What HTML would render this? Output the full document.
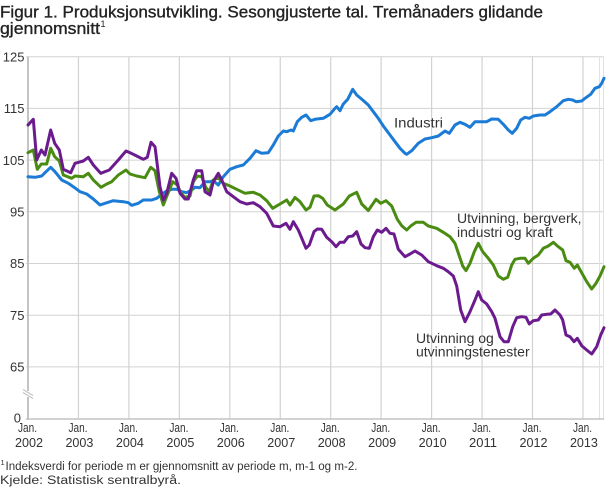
<!DOCTYPE html>
<html>
<head>
<meta charset="utf-8">
<style>
  html,body{margin:0;padding:0;background:#fff;}
  svg{display:block;}
  text{font-family:"Liberation Sans","DejaVu Sans",sans-serif;fill:#333;}
</style>
</head>
<body>
<svg width="610" height="488" viewBox="0 0 610 488" xmlns="http://www.w3.org/2000/svg">
  <rect x="0" y="0" width="610" height="488" fill="#fff"/>

  <!-- Title -->
  <text x="0" y="17.5" font-size="17" textLength="543" lengthAdjust="spacingAndGlyphs" style="fill:#222;stroke:#222;stroke-width:0.35">Figur 1. Produksjonsutvikling. Sesongjusterte tal. Tremånaders glidande</text>
  <text x="0" y="34" font-size="17" textLength="100" lengthAdjust="spacingAndGlyphs" style="fill:#222;stroke:#222;stroke-width:0.35">gjennomsnitt</text>
  <text x="100.5" y="27" font-size="9" style="fill:#222">1</text>

  <!-- Horizontal gridlines -->
  <g stroke="#d2d2d2" stroke-width="1">
    <line x1="26" y1="56.7" x2="604" y2="56.7"/>
    <line x1="26" y1="108.4" x2="604" y2="108.4"/>
    <line x1="26" y1="160.1" x2="604" y2="160.1"/>
    <line x1="26" y1="211.8" x2="604" y2="211.8"/>
    <line x1="26" y1="263.5" x2="604" y2="263.5"/>
    <line x1="26" y1="315.2" x2="604" y2="315.2"/>
    <line x1="26" y1="366.9" x2="604" y2="366.9"/>
  </g>
  <!-- Vertical gridlines -->
  <g stroke="#d2d2d2" stroke-width="1.2">
    <line x1="78.45" y1="56.7" x2="78.45" y2="419"/>
    <line x1="128.9" y1="56.7" x2="128.9" y2="419"/>
    <line x1="179.35" y1="56.7" x2="179.35" y2="419"/>
    <line x1="229.8" y1="56.7" x2="229.8" y2="419"/>
    <line x1="280.25" y1="56.7" x2="280.25" y2="419"/>
    <line x1="330.7" y1="56.7" x2="330.7" y2="419"/>
    <line x1="381.15" y1="56.7" x2="381.15" y2="419"/>
    <line x1="431.6" y1="56.7" x2="431.6" y2="419"/>
    <line x1="482.05" y1="56.7" x2="482.05" y2="419"/>
    <line x1="532.5" y1="56.7" x2="532.5" y2="419"/>
    <line x1="582.95" y1="56.7" x2="582.95" y2="419"/>
  </g>
  <g stroke="#e2e2e2" stroke-width="1">
    <line x1="599.5" y1="56.7" x2="599.5" y2="419"/>
    <line x1="603.5" y1="56.7" x2="603.5" y2="419"/>
  </g>

  <!-- Axes -->
  <line x1="28" y1="56.7" x2="28" y2="420" stroke="#c4c4c4" stroke-width="2"/>
  <line x1="26" y1="419" x2="604" y2="419" stroke="#c4c4c4" stroke-width="1.5"/>
  <!-- axis break -->
  <rect x="25" y="391" width="6" height="6" fill="#fff"/>
  <g stroke="#c4c4c4" stroke-width="1.2">
    <line x1="23" y1="389.5" x2="33" y2="395.5"/>
    <line x1="23" y1="392.5" x2="33" y2="398.5"/>
  </g>

  <!-- Y labels -->
  <g font-size="13" text-anchor="end">
    <text x="24.5" y="61.4">125</text>
    <text x="24.5" y="113.1">115</text>
    <text x="24.5" y="164.8">105</text>
    <text x="24.5" y="216.5">95</text>
    <text x="24.5" y="268.2">85</text>
    <text x="24.5" y="319.9">75</text>
    <text x="24.5" y="371.6">65</text>
    <text x="21" y="422.5">0</text>
  </g>

  <!-- X labels -->
  <g font-size="13" text-anchor="middle">
    <text x="27.5" y="432" textLength="19" lengthAdjust="spacingAndGlyphs">Jan.</text>
    <text x="78" y="432" textLength="19" lengthAdjust="spacingAndGlyphs">Jan.</text>
    <text x="128.4" y="432" textLength="19" lengthAdjust="spacingAndGlyphs">Jan.</text>
    <text x="178.9" y="432" textLength="19" lengthAdjust="spacingAndGlyphs">Jan.</text>
    <text x="229.3" y="432" textLength="19" lengthAdjust="spacingAndGlyphs">Jan.</text>
    <text x="279.8" y="432" textLength="19" lengthAdjust="spacingAndGlyphs">Jan.</text>
    <text x="330.2" y="432" textLength="19" lengthAdjust="spacingAndGlyphs">Jan.</text>
    <text x="380.7" y="432" textLength="19" lengthAdjust="spacingAndGlyphs">Jan.</text>
    <text x="431.1" y="432" textLength="19" lengthAdjust="spacingAndGlyphs">Jan.</text>
    <text x="481.6" y="432" textLength="19" lengthAdjust="spacingAndGlyphs">Jan.</text>
    <text x="532" y="432" textLength="19" lengthAdjust="spacingAndGlyphs">Jan.</text>
    <text x="582.5" y="432" textLength="19" lengthAdjust="spacingAndGlyphs">Jan.</text>

    <text x="29" y="447" textLength="28" lengthAdjust="spacingAndGlyphs">2002</text>
    <text x="79.45" y="447" textLength="28" lengthAdjust="spacingAndGlyphs">2003</text>
    <text x="129.9" y="447" textLength="28" lengthAdjust="spacingAndGlyphs">2004</text>
    <text x="180.35" y="447" textLength="28" lengthAdjust="spacingAndGlyphs">2005</text>
    <text x="230.8" y="447" textLength="28" lengthAdjust="spacingAndGlyphs">2006</text>
    <text x="281.25" y="447" textLength="28" lengthAdjust="spacingAndGlyphs">2007</text>
    <text x="331.7" y="447" textLength="28" lengthAdjust="spacingAndGlyphs">2008</text>
    <text x="382.15" y="447" textLength="28" lengthAdjust="spacingAndGlyphs">2009</text>
    <text x="432.6" y="447" textLength="28" lengthAdjust="spacingAndGlyphs">2010</text>
    <text x="483.05" y="447" textLength="28" lengthAdjust="spacingAndGlyphs">2011</text>
    <text x="533.5" y="447" textLength="28" lengthAdjust="spacingAndGlyphs">2012</text>
    <text x="583.95" y="447" textLength="28" lengthAdjust="spacingAndGlyphs">2013</text>
  </g>

  <!-- Series -->
  <g fill="none" stroke-width="3" stroke-linejoin="round" stroke-linecap="round">
    <!-- Industri (blue) -->
    <polyline stroke="#1b7bd6" points="28,176.7 35,177.3 41.7,176 46,171.7 50.7,167.3 55,171.7 61.7,180 68.3,183.3 73.3,186.7 80,191.7 86.7,194 93.3,199 100,205 105,203.3 113.3,200.7 123.3,201.7 128.3,202.7 131.7,205.3 138.3,203.3 143.3,200 151.7,200 156.7,198.3 161.7,194.3 166.7,191 171.7,189.3 176.7,189.3 181.7,191.7 186.7,192.7 191.7,190 195,187.3 200,187.7 205,181.7 210,181.7 213.3,180.7 218.3,185 223.3,176.7 230,169.3 236.7,166.7 243.3,165 250,158.3 256,150.7 261.7,153.3 268.3,152.7 273.3,145 278.3,136 283.3,131 286.7,131.7 291,130 293.3,131 297.3,121.7 301.7,117.3 306,115 310.7,120.7 315,119.3 323.3,118.3 330,114.3 335,108.3 336.7,106.7 340,110.7 343.3,104 347.7,99.3 352.7,89.3 356.7,95 362.7,100 368.3,105 373.3,111.7 378.3,118.3 383.3,126 390,135 395,141.7 400,148.3 405,153.3 406.7,154.3 411.7,150.7 418.3,143.3 425,139 431.7,137.7 438.3,136 445,131 449.3,133.3 455,125 460,122.3 465,124.3 470,127.3 475,121.7 486.7,121.7 491.7,119 498.3,119.3 503.3,124.3 508.3,130 512.3,133.3 516.7,128.3 520.7,120 525,117.3 529.3,118.3 533.3,116 540,115 545,115 550,111.7 556.7,106.7 563.3,100.7 568.3,99.3 572.7,100 576,101.7 581.7,101 585,98.3 590.7,94.3 595,88.3 599.3,86.7 601.7,83.3 604,78.3"/>
    <!-- Utvinning, bergverk, industri og kraft (green) -->
    <polyline stroke="#4a8c12" points="28,152.7 33.3,150 37.3,169.3 41.3,164 46.7,164 50.7,148.3 54.7,156.7 59.3,161 63.3,175 71.7,178.3 75,176 83.3,176.7 88.3,173.3 93.3,180 101,187.3 106.7,184 111.7,181.7 118.3,175 126,170 130,174 136.7,176 145,177.7 150.7,167.3 155,170.7 159.3,191.7 163.3,205 167.3,195 172.7,181.7 177.3,185 181,193.3 185,197.3 190,196 193.3,181.7 197.3,176 201.7,176.7 205.7,187.3 209.3,191.7 213.3,180 218.3,177.7 223.3,183.3 230,186 236.7,189.3 245,193.3 253.3,192.3 260,195 266.7,200.7 272.7,208.3 280,204 286.7,200 290,205 295,197.5 300,201.7 306,210 310,207.3 314,196 318.3,195.7 322.7,198.3 327.3,205 335,210 343.3,204 349.3,196 356.7,192.3 361.7,204 368.3,210.5 376,199.3 380.7,203.3 386,200.7 391.7,206 397.3,219.3 401.7,225.7 406.7,230 410.7,226 416,222.3 423.3,222.3 428.3,226 436.7,228.3 443.3,232.3 450,236.7 455,243.3 458.3,253 462.7,266 466,270.7 470,263.3 474.3,251.7 478.3,243.3 482.7,251.7 488.3,258.3 493.3,265 498.3,276 503.3,279.3 507.7,277.3 511.7,265 515,259.3 520,258.3 525,258.3 528.3,263.3 533.3,258.3 538.3,255 543.3,248.3 548.3,246 553.3,242.3 558.3,246.7 562.7,250 566,260.7 570,262.3 574.3,268.3 577.3,265 581.7,272.7 586.7,281.7 591.7,289 596,283.3 600,276 604,266.7"/>
    <!-- Utvinning og utvinningstenester (purple) -->
    <polyline stroke="#6b1b8e" points="28,125 33.3,119.3 36.7,160 41.3,150 45,155 50.7,130 54.7,143.3 59.3,150 63.3,169.3 70.7,172.7 75,163.3 83.3,161 88.3,157.3 93.3,165 100.7,173.3 109.3,170 118.3,160 126,151 130,152.7 136.7,156 143.3,159.3 147.3,157.3 151,142.3 155,146.7 160,186.7 163.3,200 166.7,193.3 171.7,173.3 176,178.3 180,193.3 185,199 188.3,199 193.3,180 196.7,170.7 201.7,170.7 205,191.7 210,195 213.3,181.7 218.3,173.3 221.7,180 226.7,191.7 233.3,196.7 240,201.7 246.7,204 253.3,202.7 260,206.7 266.7,213.3 273.3,226 280,226.7 286,223.3 290,229.3 293.3,221.7 298.3,230 306,248.3 309.3,245 314,231.7 317.3,229 321.7,229.3 326.7,237.3 331.7,241.7 336,246.7 340,242.3 344,242.3 348.3,236.7 352.7,236 356.7,231.7 361,244 365,247.7 369.3,248.3 373.3,236.7 377.3,230 381.7,232.3 386,228.3 390,233.3 394,234 398.3,249.3 405,256.7 410,254 415,251 421.7,255 428.3,261.7 436.7,265.7 443.3,268.3 448.3,271.7 453.3,276 456.7,286 460.7,310 465,321.7 470,311.7 475,300 478.3,291.7 481.7,300 486.7,304 491.7,311.7 495,318.3 500,336.7 504,341.7 508.3,341.7 512.7,326.7 516.7,317.7 521.7,316.7 526,317.3 529.3,324 533.3,320.7 538.3,320 541.7,315 546.7,314.3 550.7,314 555,310 560,315 562.7,320 566,335 570,336.7 574,341.7 577.3,338.3 581.7,345.7 586.7,350 591.7,354 596.7,346.7 600.7,335 604,327.7"/>
  </g>

  <!-- Series labels -->
  <g font-size="14" style="fill:#333">
    <text x="394" y="127.5" textLength="49" lengthAdjust="spacingAndGlyphs">Industri</text>
    <text x="457" y="223">Utvinning, bergverk,</text>
    <text x="457" y="237">industri og kraft</text>
    <text x="416" y="343">Utvinning og</text>
    <text x="416" y="356.5">utvinningstenester</text>
  </g>

  <!-- Footnotes -->
  <text x="0.5" y="465" font-size="7.5">1</text>
  <text x="5.5" y="470" font-size="11.5" textLength="352" lengthAdjust="spacingAndGlyphs">Indeksverdi for periode m er gjennomsnitt av periode m, m-1 og m-2.</text>
  <text x="0" y="484" font-size="11.5" textLength="181" lengthAdjust="spacingAndGlyphs">Kjelde: Statistisk sentralbyrå.</text>
</svg>
</body>
</html>
